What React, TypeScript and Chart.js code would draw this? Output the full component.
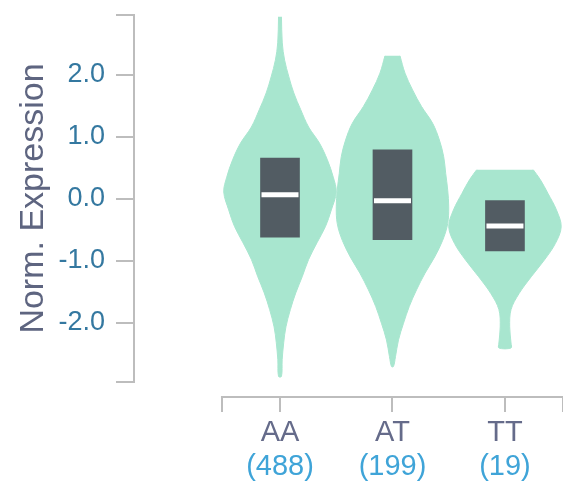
import React, { useEffect, useRef } from 'react';
import { Chart, registerables } from 'chart.js';

Chart.register(...registerables);

// ---- data ----
const categories = ['AA', 'AT', 'TT'];
const sampleCounts = [488, 199, 19];
const yTickValues = [-2, -1, 0, 1, 2];
const yDomain = [-2.96, 2.97];
const xDomain = [-0.516, 2.516];

const q1Values = [-0.62, -0.66, -0.84];
const q3Values = [0.66, 0.79, -0.03];
const medianValues = [0.065, -0.03, -0.44];

// violin profiles: expression value and relative density (half-width)
const aaExpr = [2.94, 2.52, 2.24, 1.97, 1.71, 1.44, 1.16, 0.9, 0.63, 0.35, 0.11, -0.18, -0.45, -0.71, -0.98, -1.26, -1.52, -1.79, -2.07, -2.32, -2.6, -2.87];
const aaDensity = [1.5, 2.3, 4.7, 9, 14, 21, 29, 40, 48, 54, 57, 52, 46, 37.5, 29, 22.5, 16, 10.5, 6, 3.8, 2.2, 1.5];

const atExpr = [2.31, 2.03, 1.76, 1.49, 1.22, 0.95, 0.68, 0.41, 0.14, -0.13, -0.4, -0.67, -0.94, -1.2, -1.47, -1.74, -2.01, -2.28, -2.55, -2.71];
const atDensity = [7.5, 12.5, 20, 29, 40, 46.7, 51, 53, 55, 56, 55, 50, 42, 32.5, 24, 16.7, 11, 6, 3, 1];

const ttExpr = [0.47, 0.31, 0.09, -0.18, -0.45, -0.72, -0.99, -1.26, -1.53, -1.79, -2.07, -2.33, -2.41];
const ttDensity = [28, 35, 42.5, 51, 55.7, 50, 39, 26, 14, 6, 4.7, 6, 6];

const violinExpr = [aaExpr, atExpr, ttExpr];
const violinDensity = [aaDensity, atDensity, ttDensity];

// ---- styles ----
const FONT = "'Liberation Sans', Arial, Helvetica, sans-serif";
const violinColor = '#a8e6cf';
const boxColor = '#525c63';
const axisColor = '#bdbdbd';
const yTickColor = '#3478a0';
const titleColor = '#5e6580';
const catColor = '#656b8a';
const countColor = '#3fa4d8';
const X_SCALE_MIN = -1.298;
const VIOLIN_HALF = 0.5;

function violinPoints(i: number) {
  const ys = violinExpr[i];
  const ds = violinDensity[i];
  const maxD = Math.max(...ds);
  const right = ys.map((y, k) => ({ x: i + (VIOLIN_HALF * ds[k]) / maxD, y }));
  const left = ys.map((y, k) => ({ x: i - (VIOLIN_HALF * ds[k]) / maxD, y })).reverse();
  return [...right, ...left];
}

const xDomainPlugin = {
  id: 'xDomainLine',
  afterDraw(chart: any) {
    const { ctx, chartArea, scales } = chart;
    const x = scales.x;
    const y0 = chartArea.bottom + 15;
    ctx.save();
    ctx.strokeStyle = axisColor;
    ctx.lineWidth = 2;
    ctx.beginPath();
    ctx.moveTo(x.getPixelForValue(xDomain[0]) - 1, y0);
    ctx.lineTo(x.getPixelForValue(xDomain[1]) + 1, y0);
    ctx.stroke();
    ctx.restore();
  },
};

export default function App() {
  const canvasRef = useRef<HTMLCanvasElement | null>(null);

  useEffect(() => {
    document.body.style.margin = '0';
    const canvas = canvasRef.current;
    if (!canvas) return;

    const violinSets = categories.map((c, i) => ({
      type: 'scatter',
      label: c + ' violin',
      data: violinPoints(i),
      showLine: true,
      fill: 'shape',
      backgroundColor: violinColor,
      borderColor: violinColor,
      borderWidth: 1,
      pointRadius: 0,
      tension: 0.35,
      order: 2,
    }));

    const chart = new Chart(canvas, {
      type: 'scatter',
      data: {
        datasets: [
          {
            type: 'scatter',
            label: 'median',
            data: medianValues.map((m, i) => ({ x: i, y: m })),
            pointStyle: 'line',
            pointRadius: 18.5,
            pointBorderWidth: 5,
            pointBorderColor: '#ffffff',
            pointBackgroundColor: '#ffffff',
            order: 0,
          },
          {
            type: 'bar',
            label: 'IQR',
            data: categories.map((_, i) => ({ x: i, y: [q1Values[i], q3Values[i]] })),
            backgroundColor: boxColor,
            borderWidth: 0,
            barThickness: 39,
            grouped: false,
            order: 1,
          },
          ...violinSets,
        ] as any,
      },
      options: {
        responsive: false,
        animation: false,
        layout: { autoPadding: false, padding: { top: 15, left: 0, right: 0, bottom: 0 } },
        plugins: { legend: { display: false }, tooltip: { enabled: false } },
        scales: {
          x: {
            type: 'linear',
            position: 'bottom',
            min: X_SCALE_MIN,
            max: xDomain[1],
            offset: false,
            weight: 0,
            afterBuildTicks: (s: any) => {
              s.ticks = [xDomain[0], ...categories.map((_, i) => i), xDomain[1]].map((v) => ({ value: v }));
            },
            afterFit: (s: any) => {
              s.height = 68;
              s.paddingLeft = 0;
              s.paddingRight = 0;
            },
            ticks: {
              callback: (v: any) => (Number.isInteger(v) ? categories[v] : ''),
              color: catColor,
              font: { size: 29, family: FONT },
              padding: 4,
              maxRotation: 0,
              minRotation: 0,
            },
            grid: {
              drawOnChartArea: false,
              offset: false,
              tickLength: 30,
              lineWidth: 2,
              color: axisColor,
              tickBorderDash: [0, 14, 16, 1000],
            },
            border: { display: false },
          },
          x2: {
            type: 'linear',
            position: 'bottom',
            min: X_SCALE_MIN,
            max: xDomain[1],
            offset: false,
            weight: 1,
            afterBuildTicks: (s: any) => {
              s.ticks = categories.map((_, i) => ({ value: i }));
            },
            afterFit: (s: any) => {
              s.height = 35;
              s.paddingLeft = 0;
              s.paddingRight = 0;
            },
            ticks: {
              callback: (v: any) => `(${sampleCounts[v]})`,
              color: countColor,
              font: { size: 29, family: FONT },
              padding: 0,
              maxRotation: 0,
              minRotation: 0,
            },
            grid: { display: false, drawTicks: false },
            border: { display: false },
          },
          y: {
            type: 'linear',
            min: yDomain[0],
            max: yDomain[1],
            afterBuildTicks: (s: any) => {
              s.ticks = [yDomain[0], ...yTickValues, yDomain[1]].map((v) => ({ value: v }));
            },
            afterFit: (s: any) => {
              s.width = 134;
              s.paddingTop = 0;
              s.paddingBottom = 0;
            },
            ticks: {
              callback: (v: any) => (yTickValues.includes(v) ? Number(v).toFixed(1) : ''),
              color: yTickColor,
              font: { size: 27, family: FONT },
              padding: 11,
            },
            grid: { drawOnChartArea: false, tickLength: 18, lineWidth: 2, color: axisColor },
            border: { display: true, width: 2, color: axisColor },
            title: {
              display: true,
              text: 'Norm. Expression',
              color: titleColor,
              font: { size: 34, family: FONT },
              padding: { top: 13, bottom: 0 },
            },
          },
        },
      } as any,
      plugins: [xDomainPlugin],
    });

    return () => chart.destroy();
  }, []);

  return (
    <div style={{ width: 563, height: 485, position: 'relative' }}>
      <canvas ref={canvasRef} width={563} height={485} style={{ width: 563, height: 485, display: 'block' }} />
    </div>
  );
}
